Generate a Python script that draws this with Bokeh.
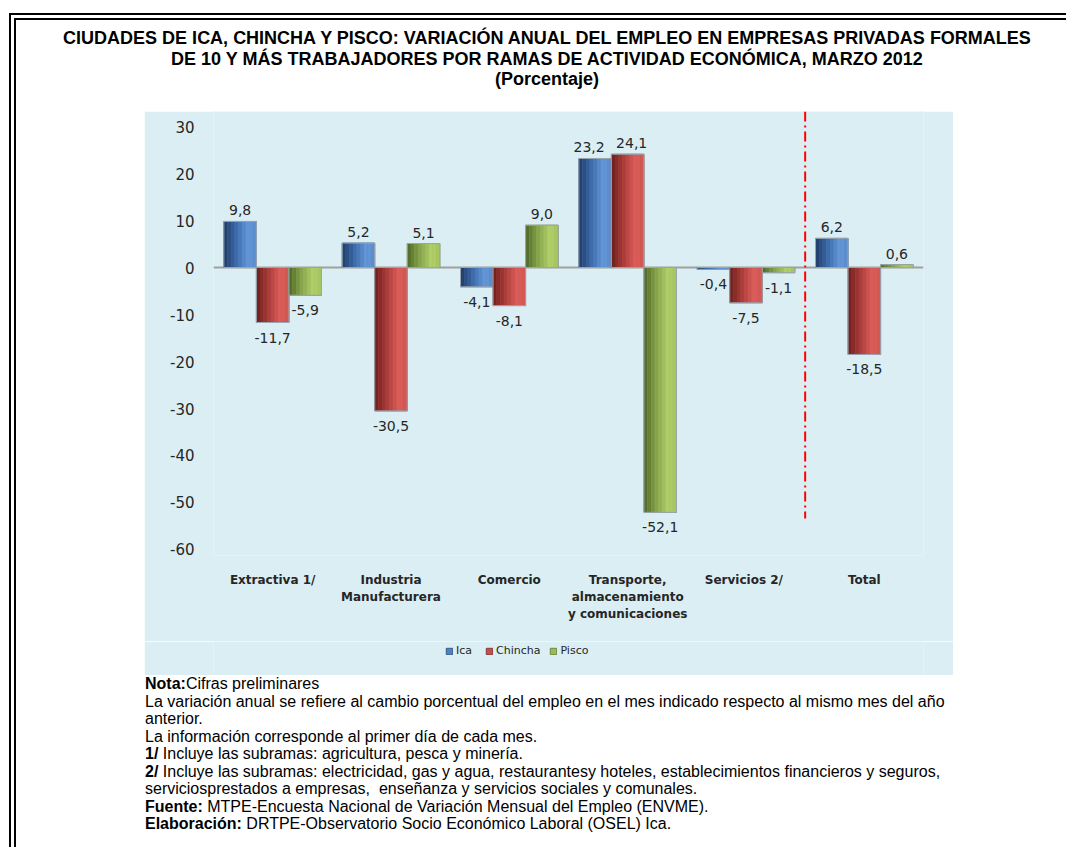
from bokeh.plotting import figure
from bokeh.models import (Div, FactorRange, Range1d, FixedTicker, Span, Legend,
                          LegendItem, ColumnDataSource)
from bokeh.layouts import column
from bokeh.transform import dodge
from bokeh.embed import file_html
from bokeh.resources import INLINE
from bokeh.core.properties import value

# ---------------- data ----------------
categories = ["Extractiva 1/", "Industria\nManufacturera", "Comercio",
              "Transporte,\nalmacenamiento\ny comunicaciones", "Servicios  2/", "Total"]
series_names = ["Ica", "Chincha", "Pisco"]
ica = [9.8, 5.2, -4.1, 23.2, -0.4, 6.2]
chincha = [-11.7, -30.5, -8.1, 24.1, -7.5, -18.5]
pisco = [-5.9, 5.1, 9.0, -52.1, -1.1, 0.6]
y_ticks = [-60, -50, -40, -30, -20, -10, 0, 10, 20, 30]

title_lines = ["CIUDADES DE ICA, CHINCHA Y PISCO: VARIACIÓN ANUAL DEL EMPLEO EN EMPRESAS PRIVADAS FORMALES",
               "DE 10 Y MÁS TRABAJADORES POR RAMAS DE ACTIVIDAD ECONÓMICA, MARZO 2012",
               "(Porcentaje)"]
note_lines = [
    ("Nota:", "Cifras preliminares"),
    ("", "La variación anual se refiere al cambio porcentual del empleo en el mes indicado respecto al mismo mes del año"),
    ("", "anterior."),
    ("", "La información corresponde al primer día de cada mes."),
    ("1/", " Incluye las subramas: agricultura, pesca y minería."),
    ("2/", " Incluye las subramas: electricidad, gas y agua, restaurantesy hoteles, establecimientos financieros y seguros,"),
    ("", "serviciosprestados a empresas,&nbsp; enseñanza y servicios sociales y comunales."),
    ("Fuente:", " MTPE-Encuesta Nacional de Variación Mensual del Empleo (ENVME)."),
    ("Elaboración:", " DRTPE-Observatorio Socio Económico Laboral (OSEL) Ica."),
]

# ---------------- styles ----------------
BG = "#DBEEF3"
TXT = "#262626"
base_colors = ["#4F81BD", "#C0504D", "#9BBB59"]
edge_colors = ["#385D8A", "#8C3836", "#71893F"]
grad_stops = [
    ["#1F3B66", "#3A66A5", "#6598DA", "#5A8BCB"],
    ["#6B1F1D", "#A63A37", "#DE5E5A", "#CF5652"],
    ["#4E6526", "#809F48", "#B2D06A", "#A4C360"],
]
stop_pos = [0.0, 0.35, 0.75, 1.0]


def hex2rgb(h):
    h = h.lstrip("#")
    return [int(h[i:i + 2], 16) for i in (0, 2, 4)]


def grad_color(stops, t):
    for k in range(len(stop_pos) - 1):
        if stop_pos[k] <= t <= stop_pos[k + 1]:
            a, b = hex2rgb(stops[k]), hex2rgb(stops[k + 1])
            f = (t - stop_pos[k]) / (stop_pos[k + 1] - stop_pos[k])
            c = [round(a[i] + (b[i] - a[i]) * f) for i in range(3)]
            return "#%02x%02x%02x" % tuple(c)
    return stops[-1]


BAR_W = 0.275
offsets = [-BAR_W, 0.0, BAR_W]
N_STRIPS = 9

# ---------------- main chart ----------------
p = figure(width=809, height=530, x_range=FactorRange(*categories),
           y_range=Range1d(-61.28, 33.2), output_backend="svg",
           toolbar_location=None, min_border_left=69, min_border_right=30,
           min_border_top=0, min_border_bottom=86)
p.background_fill_color = BG
p.border_fill_color = BG
p.outline_line_color = None
p.xgrid.visible = False
p.ygrid.visible = False

zero = Span(location=0, dimension="width", line_color="#A0A0A0", line_width=2, level="underlay")
p.add_layout(zero)

all_series = [ica, chincha, pisco]

# nudge apart labels of neighbouring bars that end at nearly the same height
x_nudges = [[0] * len(categories) for _ in all_series]
for s in range(len(all_series) - 1):
    for i in range(len(categories)):
        a, b = all_series[s][i], all_series[s + 1][i]
        if a * b > 0 and abs(a - b) < 3:
            x_nudges[s][i] -= 6
            x_nudges[s + 1][i] += 4

for s, (name, vals) in enumerate(zip(series_names, all_series)):
    src = ColumnDataSource(dict(cat=categories, val=vals))
    p.vbar(x=dodge("cat", offsets[s], range=p.x_range), top="val", bottom=0,
           width=BAR_W, source=src, fill_color=base_colors[s],
           line_color=edge_colors[s], line_width=1)
    sw = BAR_W / N_STRIPS
    for j in range(N_STRIPS):
        t = (j + 0.5) / N_STRIPS
        off = offsets[s] - BAR_W / 2 + (j + 0.5) * sw
        p.vbar(x=dodge("cat", off, range=p.x_range), top="val", bottom=0,
               width=sw * 1.02, source=src, fill_color=grad_color(grad_stops[s], t),
               line_color=None)
    p.vbar(x=dodge("cat", offsets[s], range=p.x_range), top="val", bottom=0,
           width=BAR_W, source=src, fill_color=None, line_color="#9AA6B2", line_width=1)
    lbl_src = ColumnDataSource(dict(
        cat=categories, val=vals,
        lbl=[("%.1f" % v).replace(".", ",") for v in vals],
        yoff=[-11 if v >= 0 else 15 for v in vals],
        xoff=x_nudges[s]))
    p.text(x=dodge("cat", offsets[s], range=p.x_range), y="val", text="lbl",
           x_offset="xoff", y_offset="yoff", source=lbl_src, text_align="center",
           text_baseline="middle", text_font=value("DejaVu Sans"),
           text_font_size="14px", text_color=TXT)

# separator line between the branches and the total
p.segment(x0=[len(categories) - 1], x1=[len(categories) - 1], y0=[33.2], y1=[-53.4],
          line_color="#FF0000", line_width=2, line_dash="10 4 2 4")

# axes
p.yaxis.ticker = FixedTicker(ticks=y_ticks)
p.yaxis.major_label_overrides = {t: str(t) for t in y_ticks}
p.yaxis.axis_line_color = None
p.yaxis.major_tick_line_color = None
p.yaxis.minor_tick_line_color = None
p.yaxis.major_label_standoff = 13
p.yaxis.major_label_text_font = "DejaVu Sans"
p.yaxis.major_label_text_font_size = "15px"
p.yaxis.major_label_text_color = TXT

p.xaxis.axis_line_color = None
p.xaxis.major_tick_line_color = None
p.xaxis.major_tick_out = 0
p.xaxis.major_label_standoff = 17
p.xaxis.major_label_text_font = "DejaVu Sans"
p.xaxis.major_label_text_font_style = "bold"
p.xaxis.major_label_text_font_size = "12px"
p.xaxis.major_label_text_line_height = 1.22
p.xaxis.major_label_text_color = TXT
p.margin = (0, 0, 0, 128)

# ---------------- legend strip (still inside the light-blue chart area) ----------------
pl = figure(width=809, height=34, x_range=Range1d(0, 1), y_range=Range1d(0, 1),
            output_backend="svg", toolbar_location=None, min_border=0,
            x_axis_location=None, y_axis_location=None)
pl.grid.visible = False
pl.outline_line_color = None
pl.background_fill_color = BG
pl.border_fill_color = BG
legend_items = []
for s, name in enumerate(series_names):
    # swatch-only renderer: its single bar lies far outside the visible range
    r = pl.vbar(x=[-50], top=[-50], bottom=[-60], width=0.1, fill_color=base_colors[s],
                line_color=edge_colors[s], line_width=1)
    legend_items.append(LegendItem(label=name, renderers=[r]))
legend = Legend(items=legend_items, orientation="horizontal", location=(232, 18),
                glyph_width=8, glyph_height=8, label_height=10, label_standoff=3,
                spacing=9, padding=0, margin=0, border_line_color=None,
                background_fill_alpha=0, label_text_font="DejaVu Sans",
                label_text_font_size="11px", label_text_color=TXT)
pl.add_layout(legend)
pl.margin = (0, 0, 0, 128)

# ---------------- texts around the chart ----------------
title_div = Div(text="<br>".join(title_lines), width=1038, height=83, margin=(8, 0, 0, 12),
                styles={"font-family": "'Liberation Sans', Arial, sans-serif",
                        "font-weight": "bold", "font-size": "18px", "line-height": "20.5px",
                        "text-align": "center", "white-space": "nowrap", "color": "#000"})

notes_html = "<br>".join(("<b>%s</b>" % b if b else "") + r for b, r in note_lines)
notes_div = Div(text=notes_html, width=900, height=172, margin=(0, 0, 0, 129),
                styles={"font-family": "'Liberation Sans', Arial, sans-serif",
                        "font-size": "16px", "line-height": "17.5px",
                        "white-space": "nowrap", "color": "#000"})

layout = column(title_div, p, pl, notes_div, margin=(13, 0, 0, 9),
                styles={"border-top": "7px double #000", "border-left": "7px double #000"})

open("out.html", "w").write(file_html(layout, INLINE))
